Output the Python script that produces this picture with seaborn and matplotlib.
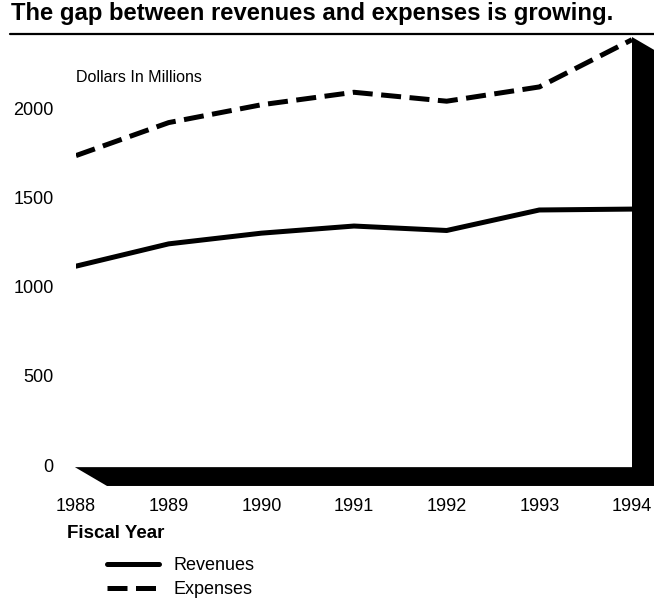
import matplotlib
matplotlib.use("Agg")
import matplotlib.pyplot as plt
from matplotlib.patches import Polygon
from matplotlib.lines import Line2D
import seaborn as sns
import pandas as pd

# Data (dollars in millions)
years = [1988, 1989, 1990, 1991, 1992, 1993, 1994]
revenues = [1115, 1240, 1300, 1340, 1315, 1430, 1435]
expenses = [1735, 1920, 2020, 2090, 2040, 2120, 2385]
y_ticks = [0, 500, 1000, 1500, 2000]

sns.set_style("white")
plt.rcParams["font.family"] = ["Liberation Sans", "DejaVu Sans"]
plt.rcParams["text.color"] = "black"
plt.rcParams["xtick.color"] = "black"
plt.rcParams["ytick.color"] = "black"

df = pd.DataFrame({
    "Fiscal Year": years * 2,
    "Dollars": revenues + expenses,
    "Series": ["Revenues"] * len(years) + ["Expenses"] * len(years),
})

fig = plt.figure(figsize=(6.54, 6.02), dpi=100)
ax = fig.add_axes([76 / 654, (602 - 465) / 602, 556 / 654, 428 / 602])

sns.lineplot(data=df, x="Fiscal Year", y="Dollars", style="Series",
             dashes={"Revenues": "", "Expenses": (4, 1.7)},
             color="black", linewidth=3.6, ax=ax, legend=True, zorder=3)

ax.set_xlim(1988, 1994)
ax.set_ylim(0, 2400)
ax.set_xticks(years)
ax.set_yticks(y_ticks)
ax.set_xlabel("")
ax.set_ylabel("")
for s in ax.spines.values():
    s.set_visible(False)
ax.tick_params(axis="x", length=0, pad=24, labelsize=13)
ax.tick_params(axis="y", length=0, pad=16, labelsize=13)

# 3-D style black shadow under and right of the plot
shadow = Polygon([(-0.002, -0.005), (1.0, -0.005), (1.0, 1.0),
                  (1.0396, 0.970), (1.0396, -0.049), (0.0558, -0.049)],
                 closed=True, transform=ax.transAxes, facecolor="black",
                 edgecolor="none", clip_on=False, zorder=1)
ax.add_patch(shadow)

ax.text(0, 0.906, "Dollars In Millions", transform=ax.transAxes,
        fontsize=11.5, va="center", ha="left")

# title with rule below
fig.text(11 / 654, 1 - 20 / 602, "The gap between revenues and expenses is growing.",
         fontsize=17.2, fontweight="bold", va="baseline", ha="left")
fig.add_artist(Line2D([10 / 654, 1], [1 - 33.5 / 602] * 2, color="black",
                      linewidth=1.6, transform=fig.transFigure))

fig.text(67 / 654, 1 - 538 / 602, "Fiscal Year", fontsize=13.5,
         fontweight="bold", va="baseline", ha="left")

handles, labels = ax.get_legend_handles_labels()
ax.get_legend().remove()
fig.legend(handles, labels, loc="upper left",
           bbox_to_anchor=(107 / 654, 1 - 557 / 602), frameon=False,
           fontsize=13, handlelength=2.9, handletextpad=0.8,
           labelspacing=0.4, borderpad=0, borderaxespad=0)

fig.savefig("out.png", dpi=100)
